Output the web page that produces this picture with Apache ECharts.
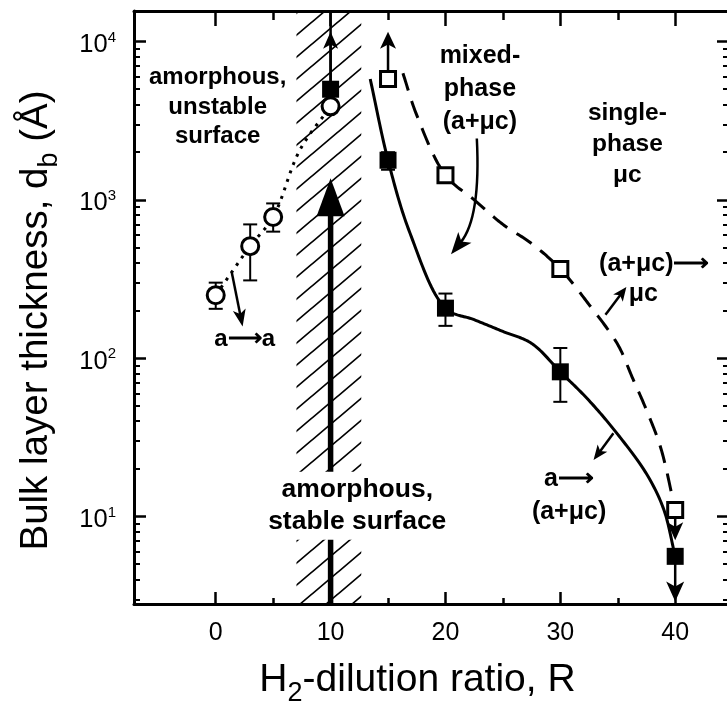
<!DOCTYPE html>
<html><head><meta charset="utf-8">
<script src="https://cdn.jsdelivr.net/npm/echarts@6/dist/echarts.min.js"></script>
<style>html,body{margin:0;padding:0;background:#fff}#c{width:727px;height:712px}</style>
</head><body><div id="c"></div>
<script>
// ---------------- data ----------------
const xMajorTicks = [0, 10, 20, 30, 40];
const xMinorTicks = [5, 15, 25, 35];
const yMajorTicks = [10, 100, 1000, 10000];
const yMinorTicks = [3, 4, 5, 6, 7, 8, 9, 20, 30, 40, 50, 60, 70, 80, 90,
  200, 300, 400, 500, 600, 700, 800, 900, 2000, 3000, 4000, 5000, 6000, 7000, 8000, 9000];

// open circles: amorphous, unstable surface
const circleR = [0, 3, 5, 10];
const circleD = [250, 510, 780, 3900];
const circleErrLow = [205, 310, 630, null];
const circleErrHigh = [300, 700, 950, null];

// filled squares
const filledR = [10, 15, 20, 30, 40];
const filledD = [5000, 1780, 207, 82, 5.6];
const filledErrLow = [null, 1550, 160, 53, null];
const filledErrHigh = [null, 2000, 256, 116, null];

// open squares
const openR = [15, 20, 30, 40];
const openD = [5800, 1430, 366, 11];

// guide curves as drawn in the figure
const dottedCurveR = [0, 3, 5, 7.3, 10];
const dottedCurveD = [250, 510, 780, 2050, 3900];
const solidCurveR = [13.45, 15, 16.9, 20, 22.5, 25, 27.5, 30, 32.5, 35, 37.5, 39, 40];
const solidCurveD = [5800, 1780, 620, 207, 175, 147.5, 124, 82, 54, 33, 18.6, 11.1, 5.6];
const dashedCurveR = [16.3, 17.5, 20, 22.5, 25, 27.5, 30, 32.5, 35, 36.25, 37.5, 38.75, 40];
const dashedCurveD = [6300, 3430, 1430, 1000, 700, 530, 366, 218, 122, 76, 47, 27, 11];

// hatched band (R range)
const hatchBand = [7.03, 12.67];

// ---------------- layout / style ----------------
const FONT = '"Liberation Sans", Arial, Helvetica, sans-serif';
const X_MIN = -7.115, X_MAX = 44.51;
const Y_MIN = 2.80, Y_MAX = 15600;

const zip = (a, b) => a.map((v, i) => [v, b[i]]);

// annotation arrows (data-space anchors)
const arrowList = [
  { from: [10, 5000], to: [10, Y_MAX], lw: 2.5 },
  { from: [10, 5000], to: [10, 11550], lw: 2.5, head: 17, w: 15 },
  { from: [15, 5800], to: [15, 11550], lw: 2.5, head: 17, w: 16 },
  { from: [1.39, 350], to: [2.34, 158.5], lw: 2.5, head: 17, w: 13 },
  { from: [10, Y_MIN], to: [10, 1372], lw: 5.5, head: 38, w: 28, notch: 0 },
  { from: [22.73, 2440], ctrl: [23.08, 772], to: [20.48, 453], lw: 2.5, head: 22, w: 17 },
  { from: [33.93, 188], to: [35.75, 282], lw: 2.5, head: 14, w: 12 },
  { from: [34.62, 33.5], to: [32.89, 22.7], lw: 2.5, head: 15, w: 12 },
  { from: [40, 5.6], to: [40, 2.9], lw: 2.5, head: 20, w: 18 },
  { from: [40, 11], to: [40, 7.08], lw: 2.5, head: 18, w: 16 }
];

// text annotations
const textList = [
  { at: [0.17, 3850], text: 'amorphous,\nunstable\nsurface', size: 24, lh: 29.5 },
  { at: [23.0, 5000], text: 'mixed-\nphase\n(a+\u03bcc)', size: 25, lh: 33 },
  { at: [35.84, 2230], text: 'single-\nphase\n\u03bcc', size: 24.5, lh: 31 },
  { at: [38.18, 393], text: '(a+\u03bcc)\u27f6', size: 25, lh: 30 },
  { at: [37.22, 255], text: '\u03bcc', size: 25, lh: 30 },
  { at: [30.76, 13.6], text: 'a\u27f6\n(a+\u03bcc)', size: 25, lh: 33 },
  { at: [2.52, 131.5], text: 'a\u27f6a', size: 24, lh: 30 },
  { at: [12.32, 11.7], text: 'amorphous,\nstable surface', size: 26.5, lh: 32, bg: '#fff' }
];

function hatchCanvas() {
  const w = 26, h = 22;
  const c = document.createElement('canvas');
  c.width = w; c.height = h;
  const g = c.getContext('2d');
  g.strokeStyle = '#000'; g.lineWidth = 1.7;
  g.beginPath();
  for (let k = -1; k <= 1; k++) { g.moveTo(-w, 2 * h + k * h); g.lineTo(2 * w, -h + k * h); }
  g.stroke();
  return c;
}

// centripetal Catmull-Rom through pixel points
function catmull(P, n) {
  const m = P.length;
  const ext = [[2 * P[0][0] - P[1][0], 2 * P[0][1] - P[1][1]]].concat(P,
    [[2 * P[m - 1][0] - P[m - 2][0], 2 * P[m - 1][1] - P[m - 2][1]]]);
  const d = (a, b) => Math.pow(Math.hypot(b[0] - a[0], b[1] - a[1]) || 1e-6, 0.5);
  const mix = (a, b, wa, wb) => [a[0] * wa + b[0] * wb, a[1] * wa + b[1] * wb];
  const out = [];
  for (let i = 1; i < ext.length - 2; i++) {
    const p0 = ext[i - 1], p1 = ext[i], p2 = ext[i + 1], p3 = ext[i + 2];
    const t0 = 0, t1 = t0 + d(p0, p1), t2 = t1 + d(p1, p2), t3 = t2 + d(p2, p3);
    for (let k = 0; k < n; k++) {
      const t = t1 + (t2 - t1) * k / n;
      const A1 = mix(p0, p1, (t1 - t) / (t1 - t0), (t - t0) / (t1 - t0));
      const A2 = mix(p1, p2, (t2 - t) / (t2 - t1), (t - t1) / (t2 - t1));
      const A3 = mix(p2, p3, (t3 - t) / (t3 - t2), (t - t2) / (t3 - t2));
      const B1 = mix(A1, A2, (t2 - t) / (t2 - t0), (t - t0) / (t2 - t0));
      const B2 = mix(A2, A3, (t3 - t) / (t3 - t1), (t - t1) / (t3 - t1));
      out.push(mix(B1, B2, (t2 - t) / (t2 - t1), (t - t1) / (t2 - t1)));
    }
  }
  out.push(P[m - 1]);
  return out;
}

function curveSeries(xs, ys, dash) {
  return {
    type: 'custom', z: 2, silent: true, clip: true,
    encode: { x: 0, y: 1 },
    data: zip(xs, ys),
    renderItem(params, api) {
      if (params.dataIndex !== 0) return null;
      const pts = xs.map((x, i) => api.coord([x, ys[i]]));
      return { type: 'polyline', shape: { points: catmull(pts, 20) },
        style: { fill: null, stroke: '#000', lineWidth: 3, lineDash: dash || null } };
    }
  };
}

function errorSeries(xs, lows, highs) {
  const data = [];
  xs.forEach((x, i) => { if (lows[i] != null) data.push([x, lows[i], highs[i]]); });
  return {
    type: 'custom', z: 3, silent: true, clip: false,
    encode: { x: 0, y: [1, 2] },
    data,
    renderItem(params, api) {
      const x = api.value(0);
      const lo = api.coord([x, api.value(1)]), hi = api.coord([x, api.value(2)]);
      const cw = 7, st = { stroke: '#000', lineWidth: 2 };
      return { type: 'group', children: [
        { type: 'line', shape: { x1: lo[0], y1: lo[1], x2: hi[0], y2: hi[1] }, style: st },
        { type: 'line', shape: { x1: lo[0] - cw, y1: lo[1], x2: lo[0] + cw, y2: lo[1] }, style: st },
        { type: 'line', shape: { x1: hi[0] - cw, y1: hi[1], x2: hi[0] + cw, y2: hi[1] }, style: st }
      ] };
    }
  };
}

const arrowSeries = {
  type: 'custom', z: 3, silent: true, clip: false,
  encode: { x: 0, y: 1 },
  data: arrowList.map(a => a.to),
  renderItem(params, api) {
    const a = arrowList[params.dataIndex];
    const p0 = api.coord(a.from), p1 = api.coord(a.to);
    const pc = a.ctrl ? api.coord(a.ctrl) : null;
    const ref = pc || p0;
    let ux = p1[0] - ref[0], uy = p1[1] - ref[1];
    const L = Math.hypot(ux, uy) || 1; ux /= L; uy /= L;
    const nx = -uy, ny = ux;
    const hl = a.head || 0, hw = a.w || 0;
    const notch = a.notch == null ? 0.25 : a.notch;
    const e = hl ? [p1[0] - ux * hl * 0.7, p1[1] - uy * hl * 0.7] : p1;
    const children = [];
    if (pc) children.push({ type: 'bezierCurve', shape: { x1: p0[0], y1: p0[1], x2: e[0], y2: e[1], cpx1: pc[0], cpy1: pc[1] }, style: { stroke: '#000', fill: null, lineWidth: a.lw } });
    else children.push({ type: 'line', shape: { x1: p0[0], y1: p0[1], x2: e[0], y2: e[1] }, style: { stroke: '#000', lineWidth: a.lw } });
    if (hl) {
      const bx = p1[0] - ux * hl, by = p1[1] - uy * hl;
      children.push({ type: 'polygon', shape: { points: [
        [p1[0], p1[1]], [bx + nx * hw / 2, by + ny * hw / 2],
        [p1[0] - ux * hl * (1 - notch), p1[1] - uy * hl * (1 - notch)],
        [bx - nx * hw / 2, by - ny * hw / 2]] }, style: { fill: '#000' } });
    }
    return { type: 'group', children };
  }
};

const tickStyle = { color: '#000', width: 2.5 };
const xBase = { type: 'value', min: X_MIN, max: X_MAX, splitLine: { show: false } };
const yBase = { type: 'log', logBase: 10, min: Y_MIN, max: Y_MAX, splitLine: { show: false } };
const supFmt = v => '{b|10}{s|' + Math.round(Math.log10(v)) + '}';
const noEmph = { disabled: true };

const option = {
  animation: false,
  backgroundColor: '#fff',
  grid: { left: 134, right: -2, top: 11, bottom: 101.5, containLabel: false },
  xAxis: [
    Object.assign({}, xBase, {
      position: 'bottom',
      axisLine: { show: true, onZero: false, lineStyle: { color: '#000', width: 3 } },
      axisTick: { show: true, inside: true, length: 12, customValues: xMajorTicks, lineStyle: tickStyle },
      axisLabel: { show: true, customValues: xMajorTicks, fontSize: 25, lineHeight: 25, fontFamily: FONT, color: '#000', margin: 17 },
      name: 'H{sub|2}-dilution ratio, R', nameLocation: 'middle', nameGap: 49,
      nameTextStyle: { fontSize: 39, fontFamily: FONT, color: '#000', lineHeight: 54, padding: [0, 26, 0, 0],
        rich: { sub: { fontSize: 27, lineHeight: 29, verticalAlign: 'bottom', fontFamily: FONT, color: '#000' } } }
    }),
    Object.assign({}, xBase, {
      position: 'bottom', axisLine: { show: false, onZero: false },
      axisTick: { show: true, inside: true, length: 6, customValues: xMinorTicks, lineStyle: tickStyle },
      axisLabel: { show: false }
    }),
    Object.assign({}, xBase, {
      position: 'top',
      axisLine: { show: true, onZero: false, lineStyle: { color: '#000', width: 3 } },
      axisTick: { show: true, inside: true, length: 15, customValues: xMajorTicks, lineStyle: tickStyle },
      axisLabel: { show: false }
    }),
    Object.assign({}, xBase, {
      position: 'top', axisLine: { show: false, onZero: false },
      axisTick: { show: true, inside: true, length: 9, customValues: xMinorTicks, lineStyle: tickStyle },
      axisLabel: { show: false }
    })
  ],
  yAxis: [
    Object.assign({}, yBase, {
      position: 'left',
      axisLine: { show: true, onZero: false, lineStyle: { color: '#000', width: 3 } },
      axisTick: { show: true, inside: true, length: 12, customValues: yMajorTicks, lineStyle: tickStyle },
      axisLabel: { show: true, customValues: yMajorTicks, formatter: supFmt, margin: 18, padding: [7, 0, 0, 0],
        rich: { b: { fontSize: 25.5, lineHeight: 30, fontFamily: FONT, color: '#000' },
                s: { fontSize: 15, lineHeight: 16, verticalAlign: 'top', fontFamily: FONT, color: '#000' } } },
      name: 'Bulk layer thickness, d{sub|b} (\u00c5)', nameLocation: 'middle', nameGap: 71,
      nameTextStyle: { fontSize: 38.5, fontFamily: FONT, color: '#000', lineHeight: 54, padding: [0, 26, 0, 0],
        rich: { sub: { fontSize: 27, lineHeight: 29, verticalAlign: 'bottom', fontFamily: FONT, color: '#000' } } }
    }),
    Object.assign({}, yBase, {
      position: 'left', axisLine: { show: false, onZero: false },
      axisTick: { show: true, inside: true, length: 6, customValues: yMinorTicks, lineStyle: { color: '#000', width: 2 } },
      axisLabel: { show: false }
    }),
    Object.assign({}, yBase, {
      position: 'right', axisLine: { show: false, onZero: false },
      axisTick: { show: true, inside: true, length: 10, customValues: yMajorTicks, lineStyle: tickStyle },
      axisLabel: { show: false }
    }),
    Object.assign({}, yBase, {
      position: 'right', axisLine: { show: false, onZero: false },
      axisTick: { show: true, inside: true, length: 4, customValues: yMinorTicks, lineStyle: { color: '#000', width: 2 } },
      axisLabel: { show: false }
    })
  ],
  series: [
    { type: 'line', data: [], z: 1, silent: true,
      markArea: { silent: true, itemStyle: { color: { image: hatchCanvas(), repeat: 'repeat' }, opacity: 1 },
        data: [[{ xAxis: hatchBand[0], yAxis: Y_MIN }, { xAxis: hatchBand[1], yAxis: Y_MAX }]] } },
    curveSeries(dottedCurveR, dottedCurveD, [3, 6]),
    curveSeries(solidCurveR, solidCurveD, null),
    curveSeries(dashedCurveR, dashedCurveD, [18, 11]),
    arrowSeries,
    errorSeries(circleR, circleErrLow, circleErrHigh),
    errorSeries(filledR, filledErrLow, filledErrHigh),
    { type: 'scatter', data: zip(filledR, filledD), symbol: 'rect', symbolSize: 17, z: 4, silent: true, emphasis: noEmph,
      itemStyle: { color: '#000', opacity: 1 } },
    { type: 'scatter', data: zip(circleR, circleD), symbol: 'circle', symbolSize: 17, z: 4, silent: true, emphasis: noEmph,
      itemStyle: { color: '#fff', borderColor: '#000', borderWidth: 3, opacity: 1 } },
    { type: 'scatter', data: zip(openR, openD), symbol: 'rect', symbolSize: 15, z: 4, silent: true, emphasis: noEmph,
      itemStyle: { color: '#fff', borderColor: '#000', borderWidth: 3, opacity: 1 } },
    { type: 'scatter', z: 10, silent: true, symbol: 'circle', symbolSize: 1, emphasis: noEmph,
      itemStyle: { color: 'rgba(0,0,0,0)', opacity: 1 },
      data: textList.map(t => ({
        value: t.at,
        label: { show: true, position: 'inside', formatter: t.text, fontSize: t.size, lineHeight: t.lh,
          fontFamily: FONT, fontWeight: 'bold', color: '#000', opacity: 1, align: 'center', verticalAlign: 'middle',
          backgroundColor: t.bg || 'transparent', padding: t.bg ? [2, 2, 2, 2] : 0 }
      })) }
  ]
};

const chart = echarts.init(document.getElementById('c'));
chart.setOption(option);
</script>
</body></html>
